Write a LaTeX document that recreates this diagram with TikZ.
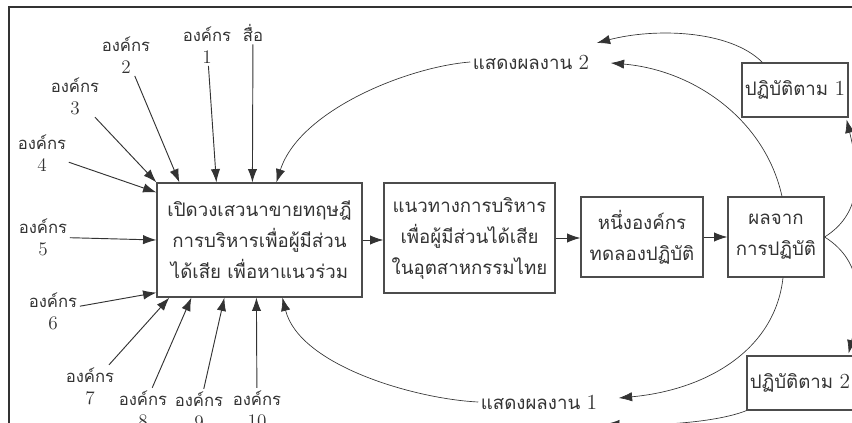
\documentclass[tikz,border=0pt]{standalone}
\usepackage{fontspec}
\newfontfamily\thai[Script=Thai]{Loma}
\usetikzlibrary{arrows.meta,calc}

\newcommand{\nr}[1]{{\rmfamily\scalebox{1.15}{#1}}}

\tikzset{
  box/.style={rectangle, draw=black!70, line width=0.9pt, align=center,
    font=\thai\fontsize{14}{23.25}\selectfont, text=black!80, inner sep=0pt},
  tag/.style={align=center, font=\thai\fontsize{14}{23.25}\selectfont,
    text=black!80, inner sep=0pt, outer sep=2pt},
  org/.style={align=center, font=\thai\fontsize{12.5}{16.5}\selectfont,
    text=black!80, inner sep=0pt, outer sep=2pt},
  conn/.style={draw=black!80, line width=0.7pt, -{Latex[length=10pt,width=7pt]}},
  link/.style={draw=black!80, line width=0.5pt, -{Latex[length=10pt,width=7pt]}}
}

\begin{document}
\begin{tikzpicture}[x=0.75pt, y=-0.75pt]
  \useasboundingbox (0,0) rectangle (852,423);
  \clip (0,0) rectangle (852,423);
  \draw[line width=1.3pt, black!80] (9,430) -- (9,7) -- (860,7);

  % main chain
  \node[box, minimum width=153.75pt, minimum height=85.5pt] (forum) at (259.5,240)
    {เปิดวงเสวนาขายทฤษฎี\\การบริหารเพื่อผู้มีส่วน\\ได้เสีย เพื่อหาแนวร่วม};
  \node[box, minimum width=128.25pt, minimum height=82.5pt] (guide) at (469.5,238)
    {แนวทางการบริหาร\\เพื่อผู้มีส่วนได้เสีย\\ในอุตสาหกรรมไทย};
  \node[box, minimum width=91.5pt, minimum height=60pt] (trial) at (642,237)
    {หนึ่งองค์กร\\ทดลองปฏิบัติ};
  \node[box, minimum width=72pt, minimum height=60pt] (result) at (776,237)
    {ผลจาก\\การปฏิบัติ};
  \node[box, minimum width=79.5pt, minimum height=40.5pt] (follow1) at (795,90)
    {ปฏิบัติตาม \nr{1}};
  \node[box, minimum width=79.5pt, minimum height=40.5pt] (follow2) at (800,383)
    {ปฏิบัติตาม \nr{2}};
  \node[tag] (show2) at (531,62) {แสดงผลงาน \nr{2}};
  \node[tag] (show1) at (539,402) {แสดงผลงาน \nr{1}};
  \coordinate (show3) at (606,424);

  % inputs
  \node[org] (org1) at (207,45) {องค์กร\\\nr{1}};
  \node[org] (media) at (253,33) {สื่อ};
  \node[org] (org2) at (126,55) {องค์กร\\\nr{2}};
  \node[org] (org3) at (75,96) {องค์กร\\\nr{3}};
  \node[org] (org4) at (42,153) {องค์กร\\\nr{4}};
  \node[org] (org5) at (43,237) {องค์กร\\\nr{5}};
  \node[org] (org6) at (53,311) {องค์กร\\\nr{6}};
  \node[org] (org7) at (90,386) {องค์กร\\\nr{7}};
  \node[org] (org8) at (143,409) {องค์กร\\\nr{8}};
  \node[org] (org9) at (199,410) {องค์กร\\\nr{9}};
  \node[org] (org10) at (257,409) {องค์กร\\\nr{10}};

  \draw[conn] (org1) -- ($(forum.north west)+(60,0)$);
  \draw[conn] (media) -- ($(forum.north west)+(96,0)$);
  \draw[conn] (org2) -- ($(forum.north west)+(23,0)$);
  \draw[conn] (org3) -- (forum.north west);
  \draw[conn] (org4) -- ($(forum.north west)+(0,10)$);
  \draw[conn] (org5) -- (forum.west);
  \draw[conn] (org6) -- ($(forum.south west)+(0,-5)$);
  \draw[conn] (org7) -- ($(forum.south west)+(13,0)$);
  \draw[conn] (org8) -- ($(forum.south west)+(35,0)$);
  \draw[conn] (org9) -- ($(forum.south west)+(68,0)$);
  \draw[conn] (org10) -- ($(forum.south west)+(100,0)$);

  \draw[conn] (forum.east) -- (forum.east -| guide.west);
  \draw[conn] (guide.east) -- (guide.east -| trial.west);
  \draw[conn] (trial) -- (result);

  % feedback curves
  \draw[link] ($(follow1.north west)+(21,0)$) .. controls +(-33,-33) and +(57,-15) .. ($(show2.east)+(5,-19)$);
  \draw[link] ($(result.north)+(6,0)$) .. controls +(-17,-77) and +(83,7) .. ($(show2.east)+(19,1)$);
  \draw[link] (show2.west) .. controls +(-63,5) and +(23,-72) .. ($(forum.north west)+(120,0)$);
  \draw[link] ($(result.south)+(7,0)$) .. controls +(-8,73) and +(87,-8) .. ($(show1.east)+(19,-4)$);
  \draw[link] (show1.west) .. controls +(-63,-3) and +(17,68) .. ($(forum.south west)+(126,0)$);
  \draw[link] (result.east) .. controls +(40,-25) and +(12,50) .. ($(follow1.south east)+(-2,2)$);
  \draw[link] (result.east) .. controls +(40,25) and +(12,-50) .. ($(follow2.north east)+(-5,-2)$);
  \draw[link] (follow2.south west) .. controls +(-30,12) and +(50,2) .. (show3);
\end{tikzpicture}
\end{document}
